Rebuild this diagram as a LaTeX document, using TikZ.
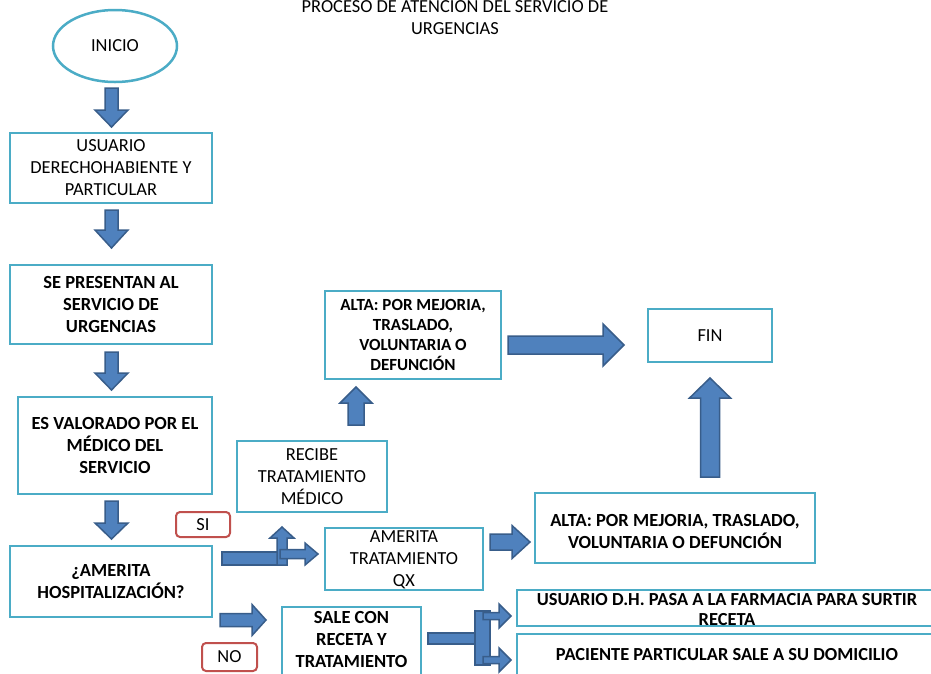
\documentclass[tikz,border=0pt]{standalone}
\usepackage{fontspec}
\setmainfont{Carlito}
\usetikzlibrary{shapes.geometric}
\definecolor{boxc}{HTML}{4BACC6}
\definecolor{arrf}{HTML}{4F81BD}
\definecolor{arrd}{HTML}{385D8A}
\definecolor{redc}{HTML}{C0504D}
\tikzset{
  fnt/.style={font=\fontsize{18.4}{22}\selectfont},
  box/.style={draw=boxc, line width=2.5pt, fill=white, inner sep=0pt, align=center, fnt},
  boldbox/.style={box, font=\fontsize{18.5}{22}\selectfont\bfseries},
  txt/.style={inner sep=0pt, align=center, fnt},
  blk/.style={fill=arrf, draw=arrd, line width=1.5pt, line join=miter},
  tag/.style={draw=redc, line width=2pt, rounded corners=4pt, inner sep=0pt, fnt},
}
% right arrow: x1 x2 yc shafthalf headhalf headlen
\newcommand{\arrR}[6]{\draw[blk] (#1,#3-#4) -- (#2-#6,#3-#4) -- (#2-#6,#3-#5) -- (#2,#3) -- (#2-#6,#3+#5) -- (#2-#6,#3+#4) -- (#1,#3+#4) -- cycle;}
% down arrow: xc ytop ytip shafthalf headhalf headlen
\newcommand{\arrD}[6]{\draw[blk] (#1-#4,#2) -- (#1-#4,#3-#6) -- (#1-#5,#3-#6) -- (#1,#3) -- (#1+#5,#3-#6) -- (#1+#4,#3-#6) -- (#1+#4,#2) -- cycle;}
% up arrow: xc ybottom ytip shafthalf headhalf headlen
\newcommand{\arrU}[6]{\draw[blk] (#1-#4,#2) -- (#1-#4,#3+#6) -- (#1-#5,#3+#6) -- (#1,#3) -- (#1+#5,#3+#6) -- (#1+#4,#3+#6) -- (#1+#4,#2) -- cycle;}
\begin{document}
\begin{tikzpicture}[x=1pt,y=-1pt]
\useasboundingbox (0,0) rectangle (931,673);
\fill[white] (0,0) rectangle (931,673);

% title
\node[txt] (title) at (455,16) {PROCESO DE ATENCIÓN DEL SERVICIO DE\\URGENCIAS};

% boxes
\node[box, ellipse, minimum width=124pt, minimum height=72pt] (inicio) at (115,46) {INICIO};
\node[box, minimum width=202pt, minimum height=70pt] (usuario) at (111,168) {USUARIO\\DERECHOHABIENTE Y\\PARTICULAR};
\node[boldbox, minimum width=202pt, minimum height=79pt] (presentan) at (111,304.5) {SE PRESENTAN AL\\SERVICIO DE\\URGENCIAS};
\node[boldbox, minimum width=194pt, minimum height=97pt] (valorado) at (115,445.5) {ES VALORADO POR EL\\MÉDICO DEL\\SERVICIO};
\node[boldbox, minimum width=202pt, minimum height=71pt] (hosp) at (111,581.5) {¿AMERITA\\HOSPITALIZACIÓN?};
\node[tag, minimum width=54pt, minimum height=25pt] (si) at (203,524.5) {SI};
\node[tag, minimum width=55pt, minimum height=28pt] (no) at (229.5,657) {NO};
\node[box, minimum width=150pt, minimum height=71pt] (recibe) at (312,476.5) {RECIBE\\TRATAMIENTO\\MÉDICO};
\node[boldbox, font=\fontsize{17}{20.3}\selectfont\bfseries, minimum width=176pt, minimum height=88pt] (alta1) at (413,335) {ALTA: POR MEJORIA,\\TRASLADO,\\VOLUNTARIA O\\DEFUNCIÓN};
\node[box, minimum width=124pt, minimum height=53pt] (fin) at (710,335.5) {FIN};
\node[box, minimum width=158pt, minimum height=62pt] (qxbox) at (404,559) {};
\node[txt] (qx) at (404,560) {AMERITA\\TRATAMIENTO\\QX};
\node[boldbox, minimum width=280pt, minimum height=70pt] (alta2) at (675,528) {};
\node[txt, font=\fontsize{18.5}{22}\selectfont\bfseries] (alta2t) at (675,531) {ALTA: POR MEJORIA, TRASLADO,\\VOLUNTARIA O DEFUNCIÓN};
\node[box, minimum width=139pt, minimum height=75pt] (salebox) at (351.5,644.5) {};
\node[txt, font=\fontsize{18.5}{22}\selectfont\bfseries] (sale) at (351.5,639.5) {SALE CON\\RECETA Y\\TRATAMIENTO};
\node[box, minimum width=420pt, minimum height=36pt] (dhbox) at (727,608) {};
\node[txt, font=\fontsize{18.4}{20}\selectfont\bfseries] (dh) at (727,610) {USUARIO D.H. PASA A LA FARMACIA PARA SURTIR\\RECETA};
\node[box, minimum width=420pt, minimum height=46pt] (pacbox) at (727,657) {};
\node[txt, font=\fontsize{18.4}{20}\selectfont\bfseries] (pac) at (727,655) {PACIENTE PARTICULAR SALE A SU DOMICILIO};

% block arrows
\arrD{111.5}{88}{127}{6.5}{16.5}{17}
\arrD{111.5}{210}{248}{6.5}{16.5}{18}
\arrD{111.5}{352}{390}{6.5}{16.5}{17}
\arrD{111.5}{501}{539}{6.5}{16.5}{16}
\arrU{356}{425}{387}{8}{16}{16}
\arrR{508}{624}{345}{9}{21}{21}
\arrU{710}{477}{378}{9.5}{20.5}{20}
\arrR{490}{530}{542}{8}{16.5}{18}
% SI branch
\draw[blk] (222,552) rectangle (283,565);
\arrU{282}{565}{527}{5}{12}{11}
\arrR{280}{318}{554}{4.5}{11}{13}
% NO branch
\arrR{220}{266}{620}{6.5}{15.5}{14}
% split
\draw[blk] (428,633) rectangle (477,644);
\draw[blk] (475,611) rectangle (490,665);
\arrR{483}{511}{616}{3.5}{12}{12}
\arrR{483}{511}{660}{3.5}{12}{12}
\end{tikzpicture}
\end{document}
